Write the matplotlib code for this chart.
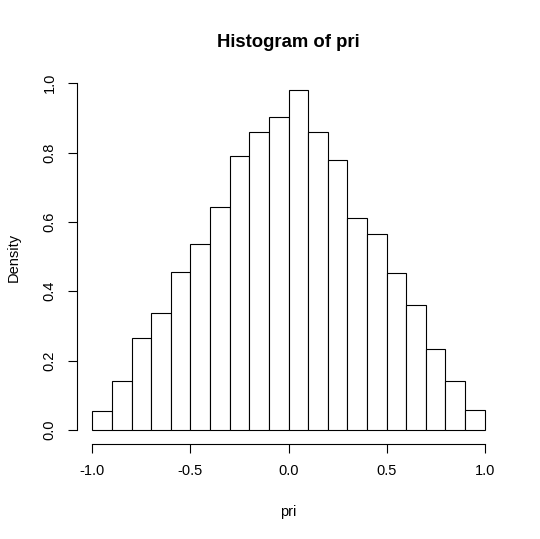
import numpy as np
import matplotlib
matplotlib.use("Agg")
import matplotlib.pyplot as plt

plt.rcParams['font.family'] = ['Liberation Sans', 'DejaVu Sans']

# bin edges and density heights
bin_edges = np.round(np.arange(-1.0, 1.0001, 0.1), 1)
density = [0.054, 0.141, 0.266, 0.338, 0.455, 0.536, 0.643, 0.789, 0.858, 0.902,
           0.980, 0.860, 0.779, 0.612, 0.564, 0.452, 0.361, 0.235, 0.141, 0.057]
x_ticks = [-1.0, -0.5, 0.0, 0.5, 1.0]
x_ticklabels = ["-1.0", "-0.5", "0.0", "0.5", "1.0"]
y_ticks = [0.0, 0.2, 0.4, 0.6, 0.8, 1.0]
y_ticklabels = ["0.0", "0.2", "0.4", "0.6", "0.8", "1.0"]

fig = plt.figure(figsize=(5.4, 5.39), dpi=100)
ax = fig.add_axes([76.6 / 540, 1 - 443.6 / 539, (500.4 - 76.6) / 540, (443.6 - 76.6) / 539])

ax.hist(bin_edges[:-1], bins=bin_edges, weights=density,
        facecolor="white", edgecolor="black", linewidth=0.8)

# R style: 4% padding around data range
ymax = max(density)
ax.set_xlim(-1.08, 1.08)
ax.set_ylim(-0.04 * ymax, ymax * 1.04)

for s in ["top", "right"]:
    ax.spines[s].set_visible(False)
ax.spines["left"].set_bounds(0.0, 1.0)
ax.spines["bottom"].set_bounds(-1.0, 1.0)
for s in ["left", "bottom"]:
    ax.spines[s].set_linewidth(0.8)
ax.spines["left"].set_position(("outward", 0))

ax.set_xticks(x_ticks)
ax.set_xticklabels(x_ticklabels)
ax.set_yticks(y_ticks)
ax.set_yticklabels(y_ticklabels, rotation=90, va="center")
ax.tick_params(axis="both", direction="out", length=6.5, width=0.8,
               labelsize=10.5, colors="black")
ax.tick_params(axis="x", pad=8.5)
ax.tick_params(axis="y", pad=8)

ax.set_title("Histogram of pri", fontsize=13.3, fontweight="bold", pad=21)
fig.text(288.5 / 540, 1 - 511.7 / 539, "pri", ha="center", va="center", fontsize=10.5)
fig.text(13.5 / 540, 1 - 257 / 539, "Density", ha="center", va="center",
         rotation=90, fontsize=10.5)

fig.savefig("out.png", dpi=100, facecolor="white")
